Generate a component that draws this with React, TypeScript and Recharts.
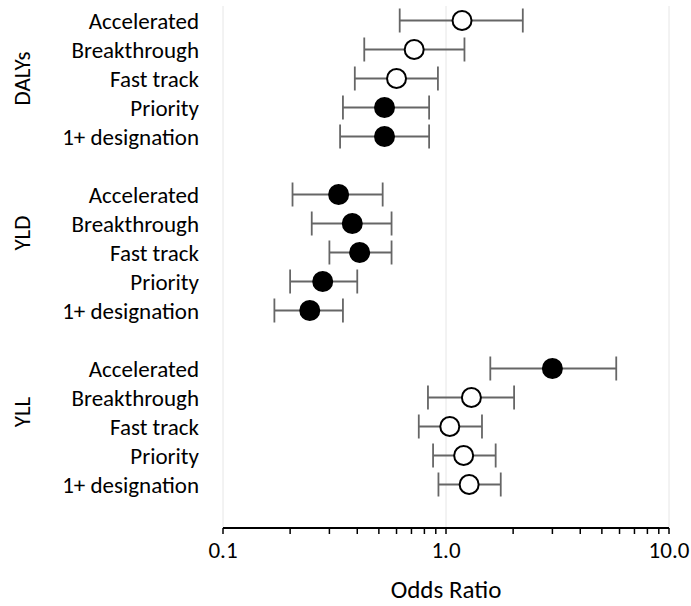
import React from "react";
import { ScatterChart, Scatter, XAxis, YAxis, ErrorBar, ReferenceLine } from "recharts";

const groups = ["DALYs", "YLD", "YLL"];
const designations = ["Accelerated", "Breakthrough", "Fast track", "Priority", "1+ designation"];

// odds ratio and 95% CI per group, in designation order
const oddsRatio = [
  [1.18, 0.72, 0.6, 0.53, 0.53],
  [0.33, 0.38, 0.41, 0.28, 0.245],
  [3.0, 1.3, 1.04, 1.2, 1.27],
];
const lowerCI = [
  [0.62, 0.43, 0.39, 0.345, 0.335],
  [0.205, 0.25, 0.3, 0.2, 0.17],
  [1.58, 0.83, 0.755, 0.875, 0.925],
];
const upperCI = [
  [2.21, 1.21, 0.92, 0.84, 0.84],
  [0.52, 0.57, 0.57, 0.4, 0.345],
  [5.8, 2.02, 1.45, 1.67, 1.76],
];
const significant = [
  [false, false, false, true, true],
  [true, true, true, true, true],
  [true, false, false, false, false],
];

const groupLabelY = [15, 9.67, 3.5];
const majorTicks = [0.1, 1, 10];
const minorTicks = [0.2, 0.3, 0.4, 0.5, 0.6, 0.7, 0.8, 0.9, 2, 3, 4, 5, 6, 7, 8, 9];

const rows = groups.flatMap((g, gi) =>
  designations.map((d, di) => {
    const or = oddsRatio[gi][di];
    return {
      group: g,
      label: d,
      y: 17 - gi * 6 - di,
      or,
      err: [or - lowerCI[gi][di], upperCI[gi][di] - or],
      filled: significant[gi][di],
    };
  })
);

// invisible points so the group axis gets drawn
const groupPts = groups.map((g, i) => ({ or: 1, gy: groupLabelY[i] }));

const rowTicks = rows.map((r) => r.y);
const labelByY: Record<number, string> = {};
rows.forEach((r) => (labelByY[r.y] = r.label));

const xTicks = [...majorTicks, ...minorTicks].sort((a, b) => a - b);

function GroupTick(props: any) {
  const { y, payload } = props;
  const idx = groupLabelY.indexOf(payload.value);
  const cx = 22;
  return (
    <text
      x={cx}
      y={y}
      transform={`rotate(-90, ${cx}, ${y})`}
      textAnchor="middle"
      dominantBaseline="central"
      fontSize={23}
      fill="#000"
    >
      {groups[idx]}
    </text>
  );
}

function Dot(props: any) {
  const { cx, cy, payload } = props;
  return (
    <circle
      cx={cx}
      cy={cy}
      r={9.5}
      fill={payload.filled ? "#000" : "#fff"}
      stroke="#000"
      strokeWidth={2}
    />
  );
}

export default function App() {
  return (
    <div style={{ position: "absolute", left: 0, top: 0, fontFamily: "Carlito, Lato, sans-serif" }}>
      <ScatterChart width={691} height={606} margin={{ top: 6, right: 22, bottom: 0, left: 0 }}>
        {majorTicks.map((t) => (
          <ReferenceLine key={t} x={t} yAxisId="rows" stroke="#e6e6e6" strokeWidth={1} />
        ))}
        <XAxis
          type="number"
          dataKey="or"
          scale="log"
          domain={[0.1, 10]}
          allowDataOverflow
          ticks={xTicks}
          interval={0}
          tickFormatter={(v: number) => (majorTicks.includes(v) ? v.toFixed(1) : "")}
          axisLine={{ stroke: "#000", strokeWidth: 2 }}
          tickLine={{ stroke: "#000", strokeWidth: 1.5 }}
          tickSize={6}
          tickMargin={8}
          tick={{ fontSize: 23, fill: "#000" }}
          height={78}
          label={{ value: "Odds Ratio", position: "insideBottom", offset: 8, fontSize: 25, fill: "#000" }}
        />
        <YAxis
          yAxisId="groups"
          dataKey="gy"
          type="number"
          domain={[-0.5, 17.5]}
          ticks={groupLabelY}
          interval={0}
          width={1}
          axisLine={false}
          tickLine={false}
          tick={<GroupTick />}
        />
        <YAxis
          yAxisId="rows"
          type="number"
          dataKey="y"
          domain={[-0.5, 17.5]}
          ticks={rowTicks}
          interval={0}
          tickFormatter={(v: number) => labelByY[v] ?? ""}
          width={222}
          axisLine={false}
          tickLine={false}
          tickSize={0}
          tickMargin={23}
          tick={{ fontSize: 23, fill: "#000" }}
        />
        <Scatter data={groupPts} yAxisId="groups" shape={() => <g />} isAnimationActive={false} />
        <Scatter data={rows} yAxisId="rows" shape={<Dot />} isAnimationActive={false}>
          <ErrorBar dataKey="err" direction="x" width={12} stroke="#666" strokeWidth={1.8} />
        </Scatter>
      </ScatterChart>
    </div>
  );
}
